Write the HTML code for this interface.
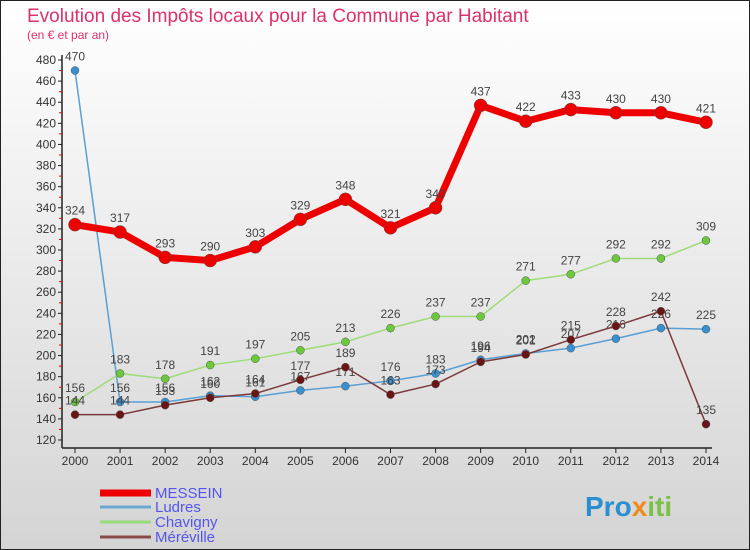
<!DOCTYPE html>
<html><head><meta charset="utf-8"><style>
body{margin:0;width:750px;height:550px;overflow:hidden;font-family:"Liberation Sans",sans-serif}
svg{display:block}
</style></head><body>
<svg id="c" width="750" height="550" xmlns="http://www.w3.org/2000/svg">
<defs><linearGradient id="bg" x1="0" y1="0" x2="0" y2="1"><stop offset="0" stop-color="#ffffff"/><stop offset="1" stop-color="#d4d4d4"/></linearGradient></defs>
<rect x="0.5" y="0.5" width="749" height="549" fill="url(#bg)" stroke="#222"/>
<text x="27" y="22" font-size="19" fill="#e0306a">Evolution des Impôts locaux pour la Commune par Habitant</text>
<text x="27" y="39" font-size="12" fill="#e0306a">(en € et par an)</text>
<g id="axes"></g><g id="series"></g><g id="legend"></g>
<g><text x="585" y="516" font-size="28" font-weight="bold" fill="#2a8fd0">Pro<tspan fill="#f08a1c">x</tspan><tspan fill="#7cc04a">iti</tspan></text></g>
</svg>
<script>
const years=["2000","2001","2002","2003","2004","2005","2006","2007","2008","2009","2010","2011","2012","2013","2014"];
const messein=[324,317,293,290,303,329,348,321,340,437,422,433,430,430,421];
const ludres=[470,156,156,162,161,167,171,176,183,196,202,207,216,226,225];
const chavigny=[156,183,178,191,197,205,213,226,237,237,271,277,292,292,309];
const mereville=[144,144,153,160,164,177,189,163,173,194,201,215,228,242,135];
const yTicks=[120,140,160,180,200,220,240,260,280,300,320,340,360,380,400,420,440,460,480];
const NS="http://www.w3.org/2000/svg";
function X(i){return 75+i*(631/14);}
function Y(v){return 440-(v-120)*(380/360);}
function mk(t,a,p){const e=document.createElementNS(NS,t);for(const k in a)e.setAttribute(k,a[k]);p.appendChild(e);return e;}
const ax=document.getElementById('axes');
let e=mk('line',{x1:62,y1:55,x2:62,y2:448,stroke:'#222','stroke-width':1.5},ax);


e=mk('line',{x1:62,y1:448,x2:712,y2:448,stroke:'#222','stroke-width':1.5},ax);


yTicks.forEach(v=>{
 mk('line',{x1:58,y1:Y(v),x2:62,y2:Y(v),stroke:'#222'},ax);
 if(v<480)mk('line',{x1:59,y1:Y(v+10),x2:62,y2:Y(v+10),stroke:'#e00'},ax);
 const t=mk('text',{x:56,y:Y(v)+4,'font-size':12,fill:'#333','text-anchor':'end'},ax);t.textContent=v;
 
 
});
years.forEach((y,i)=>{
 mk('line',{x1:X(i),y1:448,x2:X(i),y2:453,stroke:'#222'},ax);
 const t=mk('text',{x:X(i),y:465,'font-size':12,fill:'#333','text-anchor':'middle'},ax);t.textContent=y;
 
 
});
const sg=document.getElementById('series');
function series(name,data,color,dot,w,r,fs){
 const g=mk('g',{},sg);
 
 
 const p=mk('polyline',{points:data.map((v,i)=>X(i)+','+Y(v)).join(' '),fill:'none',stroke:color,'stroke-width':w,'stroke-linejoin':'round'},g);
 
 
 data.forEach((v,i)=>{
  const c=mk('circle',{cx:X(i),cy:Y(v),r:r,fill:dot,stroke:'#555','stroke-width':0.5},g);
  
  
  const t=mk('text',{x:X(i),y:Y(v)-10,'font-size':fs,fill:'#444','text-anchor':'middle'},g);t.textContent=v;
  
  
 });
}
series('ludres',ludres,'#5a9fd4','#3a8fd0',1.5,4,12);
series('chavigny',chavigny,'#9edc78','#6cc83c',1.5,4,12);
series('mereville',mereville,'#7a3a3a','#6a1515',1.5,4,12);
series('messein',messein,'#ee0000','#ee0000',7,6.5,12);
const lg=document.getElementById('legend');
[['MESSEIN','#ee0000',7,497],['Ludres','#6aa8d0',3,511],['Chavigny','#96dc78',3,526],['Méréville','#8a4a4a',3,541]].forEach(d=>{
 const g=mk('g',{},lg);
 
 
 mk('line',{x1:100,y1:d[3]-4,x2:151,y2:d[3]-4,stroke:d[1],'stroke-width':d[2]},g);
 const t=mk('text',{x:155,y:d[3]+1,'font-size':15,fill:'#5555ee'},g);t.textContent=d[0];
});
</script>
</body></html>
